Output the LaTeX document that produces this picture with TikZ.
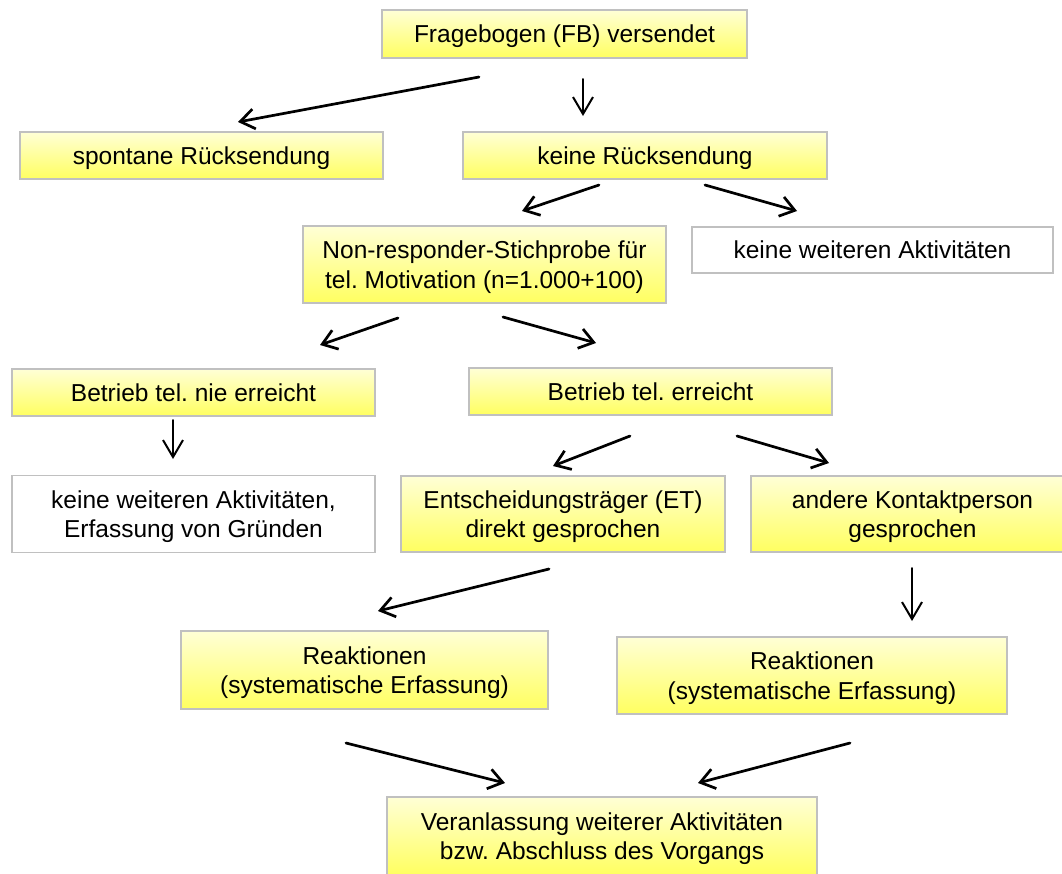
\documentclass[tikz,border=0pt]{standalone}
\usepackage{fontspec}
\setmainfont{Liberation Sans}
\usetikzlibrary{arrows.meta}
\definecolor{ylight}{RGB}{255,255,214}
\definecolor{ydark}{RGB}{255,255,96}
\definecolor{edgegray}{RGB}{192,192,192}
% strut that keeps the capitals of every line centred in its box
\newcommand\capstrut{\rule[-0.21em]{0pt}{1.14em}}
\tikzset{
  basebox/.style={draw=edgegray, line width=1.4pt, inner sep=0pt, align=center,
    font=\fontsize{24.5}{29.5}\selectfont\frenchspacing, text=black},
  ybox/.style={basebox, top color=ylight, bottom color=ydark},
  wbox/.style={basebox, fill=white},
  diag/.style={line width=2.7pt, line cap=round,
    -{Straight Barb[length=14pt,width=20pt,line width=2.7pt]}},
  vert/.style={line width=2pt, line cap=round,
    -{Straight Barb[length=17pt,width=20pt,line width=2pt]}},
}
\begin{document}
\begin{tikzpicture}[x=1pt,y=-1pt]
\useasboundingbox (0,0) rectangle (1062,873);
\clip (0,0) rectangle (1062,873);

% boxes
\node[ybox, minimum width=365pt, minimum height=48pt] (fb) at (564.5,34) {\capstrut Fragebogen (FB) versendet};
\node[ybox, minimum width=363pt, minimum height=47pt] (spont) at (201.5,155.5) {\capstrut spontane Rücksendung};
\node[ybox, minimum width=364pt, minimum height=47pt] (keine) at (645,155.5) {\capstrut keine Rücksendung};
\node[ybox, minimum width=363pt, minimum height=77pt] (nonresp) at (484.5,264.5) {\capstrut Non-responder-Stichprobe für\\\capstrut tel. Motivation (n=1.000+100)};
\node[wbox, minimum width=361pt, minimum height=46pt] (kwa) at (872.5,250) {\capstrut keine weiteren Aktivitäten};
\node[ybox, minimum width=363pt, minimum height=47pt] (nie) at (193.5,392.5) {\capstrut Betrieb tel. nie erreicht};
\node[ybox, minimum width=363pt, minimum height=47pt] (err) at (650.5,391.5) {\capstrut Betrieb tel. erreicht};
\node[wbox, minimum width=363pt, minimum height=77pt] (kwag) at (193.5,514) {\capstrut keine weiteren Aktivitäten,\\\capstrut Erfassung von Gründen};
\node[ybox, minimum width=324pt, minimum height=76pt] (et) at (563,514) {\capstrut Entscheidungsträger (ET)\\\capstrut direkt gesprochen};
\node[ybox, minimum width=323pt, minimum height=76pt] (andere) at (912.5,514) {\capstrut andere Kontaktperson\\\capstrut gesprochen};
\node[ybox, minimum width=367pt, minimum height=78pt] (reakl) at (364.5,670) {\capstrut Reaktionen\\\capstrut (systematische Erfassung)};
\node[ybox, minimum width=390pt, minimum height=77pt] (reakr) at (812,675.5) {\capstrut Reaktionen\\\capstrut (systematische Erfassung)};
\node[ybox, minimum width=430pt, minimum height=78pt] (abschl) at (602,836) {\capstrut Veranlassung weiterer Aktivitäten\\\capstrut bzw. Abschluss des Vorgangs};

% connector end points
\coordinate (a1s) at (479,77);  \coordinate (a1e) at (238,122);
\coordinate (a2s) at (583,79);  \coordinate (a2e) at (583,116);
\coordinate (a3s) at (599,185); \coordinate (a3e) at (522,211);
\coordinate (a4s) at (705,185); \coordinate (a4e) at (797,211);
\coordinate (a5s) at (398,318); \coordinate (a5e) at (320,345);
\coordinate (a6s) at (503,317); \coordinate (a6e) at (596,343);
\coordinate (a7s) at (173,420); \coordinate (a7e) at (173,459);
\coordinate (a8s) at (630,436); \coordinate (a8e) at (553,466);
\coordinate (a9s) at (737,436); \coordinate (a9e) at (829,463);
\coordinate (a10s) at (549,569); \coordinate (a10e) at (378,611);
\coordinate (a11s) at (912,568); \coordinate (a11e) at (912,621);
\coordinate (a12s) at (346,743); \coordinate (a12e) at (505,783);
\coordinate (a13s) at (850,743); \coordinate (a13e) at (698,783);

% connectors
\draw[diag] (a1s) -- (a1e);
\draw[vert] (a2s) -- (a2e);
\draw[diag] (a3s) -- (a3e);
\draw[diag] (a4s) -- (a4e);
\draw[diag] (a5s) -- (a5e);
\draw[diag] (a6s) -- (a6e);
\draw[vert] (a7s) -- (a7e);
\draw[diag] (a8s) -- (a8e);
\draw[diag] (a9s) -- (a9e);
\draw[diag] (a10s) -- (a10e);
\draw[vert] (a11s) -- (a11e);
\draw[diag] (a12s) -- (a12e);
\draw[diag] (a13s) -- (a13e);
\end{tikzpicture}
\end{document}
